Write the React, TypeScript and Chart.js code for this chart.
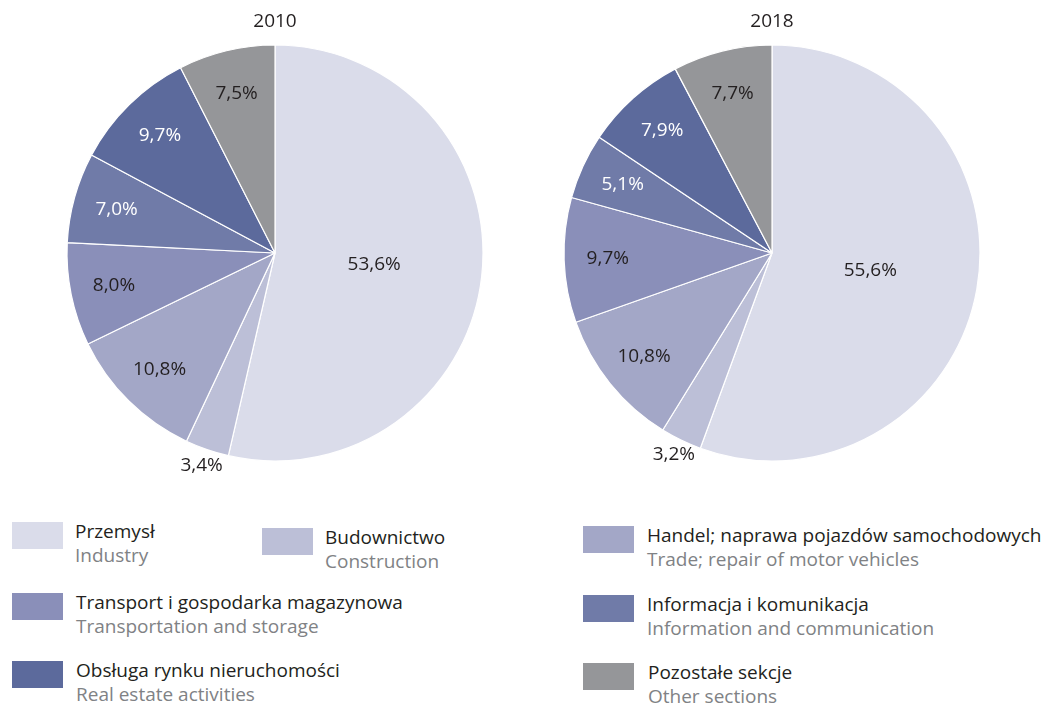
import React, { useEffect, useRef } from "react";
import { Chart, registerables } from "chart.js";

Chart.register(...registerables);

const categoriesPl = [
  "Przemysł",
  "Budownictwo",
  "Handel; naprawa pojazdów samochodowych",
  "Transport i gospodarka magazynowa",
  "Informacja i komunikacja",
  "Obsługa rynku nieruchomości",
  "Pozostałe sekcje",
];
const categoriesEn = [
  "Industry",
  "Construction",
  "Trade; repair of motor vehicles",
  "Transportation and storage",
  "Information and communication",
  "Real estate activities",
  "Other sections",
];
const values2010 = [53.6, 3.4, 10.8, 8.0, 7.0, 9.7, 7.5];
const values2018 = [55.6, 3.2, 10.8, 9.7, 5.1, 7.9, 7.7];
const years = ["2010", "2018"];

const colors = ["#dadcea", "#bcbfd7", "#a3a7c7", "#8a8fb9", "#707ba8", "#5c6a9c", "#959699"];
const labelColors = ["#231f20", "#231f20", "#231f20", "#231f20", "#ffffff", "#ffffff", "#231f20"];

const FONT = "'Open Sans', 'Noto Sans', sans-serif";

const fmt = (v: number) => v.toFixed(1).replace(".", ",") + "%";

const pieLabelsPlugin = {
  id: "pieLabels",
  afterDatasetsDraw(chart: any) {
    const ctx = chart.ctx;
    const meta = chart.getDatasetMeta(0);
    const data = chart.data.datasets[0].data as number[];
    ctx.save();
    ctx.font = `19px ${FONT}`;
    ctx.textAlign = "center";
    ctx.textBaseline = "middle";
    meta.data.forEach((arc: any, i: number) => {
      const { x, y, startAngle, endAngle, outerRadius } = arc.getProps(
        ["x", "y", "startAngle", "endAngle", "outerRadius"],
        true
      );
      const mid = (startAngle + endAngle) / 2;
      const v = data[i];
      let f = 0.79;
      if (v > 40) f = 0.48;
      else if (v < 4) f = 1.08;
      const lx = x + Math.cos(mid) * outerRadius * f;
      const ly = y + Math.sin(mid) * outerRadius * f;
      ctx.fillStyle = v < 4 ? "#231f20" : labelColors[i];
      ctx.fillText(fmt(v), lx, ly);
    });
    const first = meta.data[0];
    if (first) {
      ctx.fillStyle = "#231f20";
      ctx.font = `19px ${FONT}`;
      ctx.fillText(chart.options.plugins.yearTitle.text, first.x, 22);
    }
    ctx.restore();
  },
};

function PieChart({ values, year, left }: { values: number[]; year: string; left: number }) {
  const ref = useRef<HTMLCanvasElement | null>(null);
  useEffect(() => {
    if (!ref.current) return;
    const chart = new Chart(ref.current, {
      type: "pie",
      data: {
        labels: categoriesPl,
        datasets: [
          {
            data: values,
            backgroundColor: colors,
            borderColor: "#ffffff",
            borderWidth: 1.2,
            radius: 208,
          } as any,
        ],
      },
      options: {
        animation: false,
        responsive: false,
        maintainAspectRatio: false,
        layout: { padding: { left: 67, right: 67, top: 45, bottom: 19 } },
        plugins: {
          legend: { display: false },
          tooltip: { enabled: false },
          title: { display: false },
          yearTitle: { text: year },
        } as any,
      },
      plugins: [pieLabelsPlugin],
    });
    return () => chart.destroy();
  }, [values, year]);
  return (
    <canvas
      ref={ref}
      width={550}
      height={480}
      style={{ position: "absolute", left, top: 0, width: 550, height: 480 }}
    />
  );
}

const legendLayout = [
  { x: 12, y: 522, tx: 75 },
  { x: 262, y: 528, tx: 325 },
  { x: 583, y: 526, tx: 647 },
  { x: 12, y: 593, tx: 76 },
  { x: 583, y: 595, tx: 647 },
  { x: 12, y: 661, tx: 76 },
  { x: 583, y: 663, tx: 648 },
];

export default function App() {
  return (
    <div
      style={{
        position: "fixed",
        left: 0,
        top: 0,
        width: 1048,
        height: 703,
        background: "#ffffff",
        overflow: "hidden",
        fontFamily: FONT,
      }}
    >
      <PieChart values={values2010} year={years[0]} left={0} />
      <PieChart values={values2018} year={years[1]} left={497} />
      {categoriesPl.map((name, i) => {
        const L = legendLayout[i];
        return (
          <React.Fragment key={name}>
            <div
              style={{
                position: "absolute",
                left: L.x,
                top: L.y,
                width: 51,
                height: 27,
                background: colors[i],
              }}
            />
            <div
              style={{
                position: "absolute",
                left: L.tx,
                top: L.y - 3,
                fontSize: 19,
                lineHeight: "24px",
                whiteSpace: "nowrap",
              }}
            >
              <div style={{ color: "#231f20" }}>{name}</div>
              <div style={{ color: "#808285" }}>{categoriesEn[i]}</div>
            </div>
          </React.Fragment>
        );
      })}
    </div>
  );
}
